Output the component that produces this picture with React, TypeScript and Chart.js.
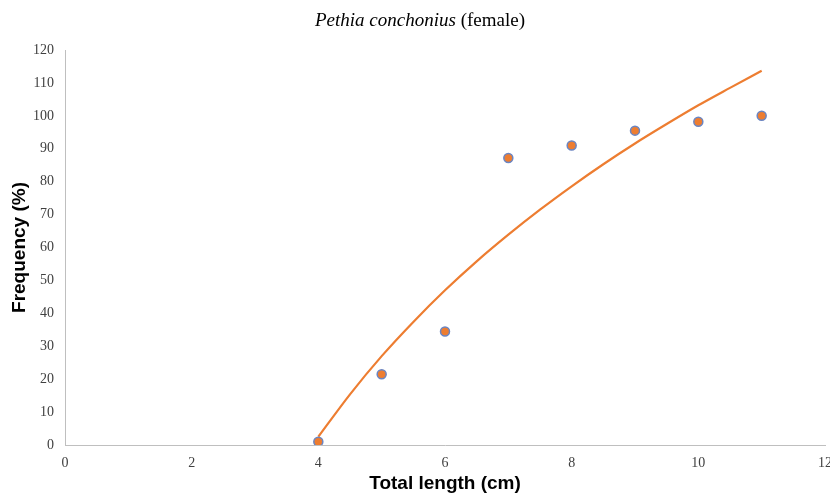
import React, { useEffect, useRef } from "react";
import { Chart, registerables } from "chart.js";

Chart.register(...registerables);

const lengthsCm = [4, 5, 6, 7, 8, 9, 10, 11];
const frequencyPct = [1, 21.5, 34.5, 87.2, 91, 95.5, 98.2, 100];

const trendX = [4, 4.5, 5, 5.5, 6, 6.5, 7, 7.5, 8, 8.5, 9, 9.5, 10, 10.5, 11];
const trendY = [2.5, 15.4, 27.0, 37.4, 47.0, 55.8, 63.9, 71.5, 78.6, 85.3, 91.6, 97.5, 103.2, 108.5, 113.7];

const titleItalic = "Pethia conchonius";
const titleNormal = " (female)";
const xTitle = "Total length (cm)";
const yTitle = "Frequency (%)";

const titlePlugin = {
  id: "mixedTitle",
  afterDraw(chart: any) {
    const ctx = chart.ctx;
    ctx.save();
    const italicFont = "italic 19px 'Liberation Serif', 'Times New Roman', serif";
    const normalFont = "19px 'Liberation Serif', 'Times New Roman', serif";
    ctx.font = italicFont;
    const w1 = ctx.measureText(titleItalic).width;
    ctx.font = normalFont;
    const w2 = ctx.measureText(titleNormal).width;
    const cx = 420;
    const start = cx - (w1 + w2) / 2;
    ctx.fillStyle = "#000";
    ctx.textBaseline = "middle";
    ctx.textAlign = "left";
    ctx.font = italicFont;
    ctx.fillText(titleItalic, start, 21);
    ctx.font = normalFont;
    ctx.fillText(titleNormal, start + w1, 21);
    ctx.restore();
  },
};

export default function App() {
  const ref = useRef<HTMLCanvasElement | null>(null);
  useEffect(() => {
    if (!ref.current) return;
    const chart = new Chart(ref.current, {
      type: "scatter",
      data: {
        datasets: [
          {
            type: "scatter",
            label: "Observed",
            data: lengthsCm.map((x, i) => ({ x, y: frequencyPct[i] })),
            backgroundColor: "#ED7D31",
            borderColor: "#6a85c2",
            borderWidth: 1.5,
            pointRadius: 4.5,
            order: 1,
          },
          {
            type: "line",
            label: "Trend",
            data: trendX.map((x, i) => ({ x, y: trendY[i] })),
            borderColor: "#ED7D31",
            borderWidth: 2.2,
            pointRadius: 0,
            fill: false,
            cubicInterpolationMode: "monotone",
            order: 2,
          } as any,
        ],
      },
      options: {
        animation: false,
        responsive: false,
        maintainAspectRatio: false,
        layout: { padding: { top: 50, right: 0, left: 8, bottom: 0 } },
        plugins: {
          legend: { display: false },
          tooltip: { enabled: false },
          title: { display: false },
        },
        scales: {
          x: {
            type: "linear",
            min: 0,
            max: 12,
            afterFit(scale: any) {
              scale.height = 50;
            },
            ticks: {
              stepSize: 2,
              color: "#404040",
              font: { family: "'Liberation Serif', 'Times New Roman', serif", size: 14 },
              padding: 10,
            },
            grid: { display: false, drawTicks: false },
            border: { display: true, color: "#bfbfbf", width: 1 },
            title: {
              display: true,
              text: xTitle,
              color: "#000",
              font: { family: "'Liberation Sans', Arial, sans-serif", size: 19, weight: "bold" },
              padding: { top: 0, bottom: 0 },
            },
          },
          y: {
            type: "linear",
            min: 0,
            max: 120,
            afterFit(scale: any) {
              scale.width = 57;
            },
            ticks: {
              stepSize: 10,
              color: "#404040",
              font: { family: "'Liberation Serif', 'Times New Roman', serif", size: 14 },
              padding: 11,
            },
            grid: { display: false, drawTicks: false },
            border: { display: true, color: "#bfbfbf", width: 1 },
            title: {
              display: true,
              text: yTitle,
              color: "#000",
              font: { family: "'Liberation Sans', Arial, sans-serif", size: 19, weight: "bold" },
              padding: { top: 0, bottom: 0 },
            },
          },
        },
      },
      plugins: [titlePlugin],
    });
    return () => chart.destroy();
  }, []);
  return (
    <div style={{ position: "fixed", left: 0, top: 0, width: 830, height: 495, overflow: "hidden", background: "#fff" }}>
      <canvas ref={ref} width={842} height={495} style={{ display: "block", width: 842, height: 495 }} />
    </div>
  );
}
